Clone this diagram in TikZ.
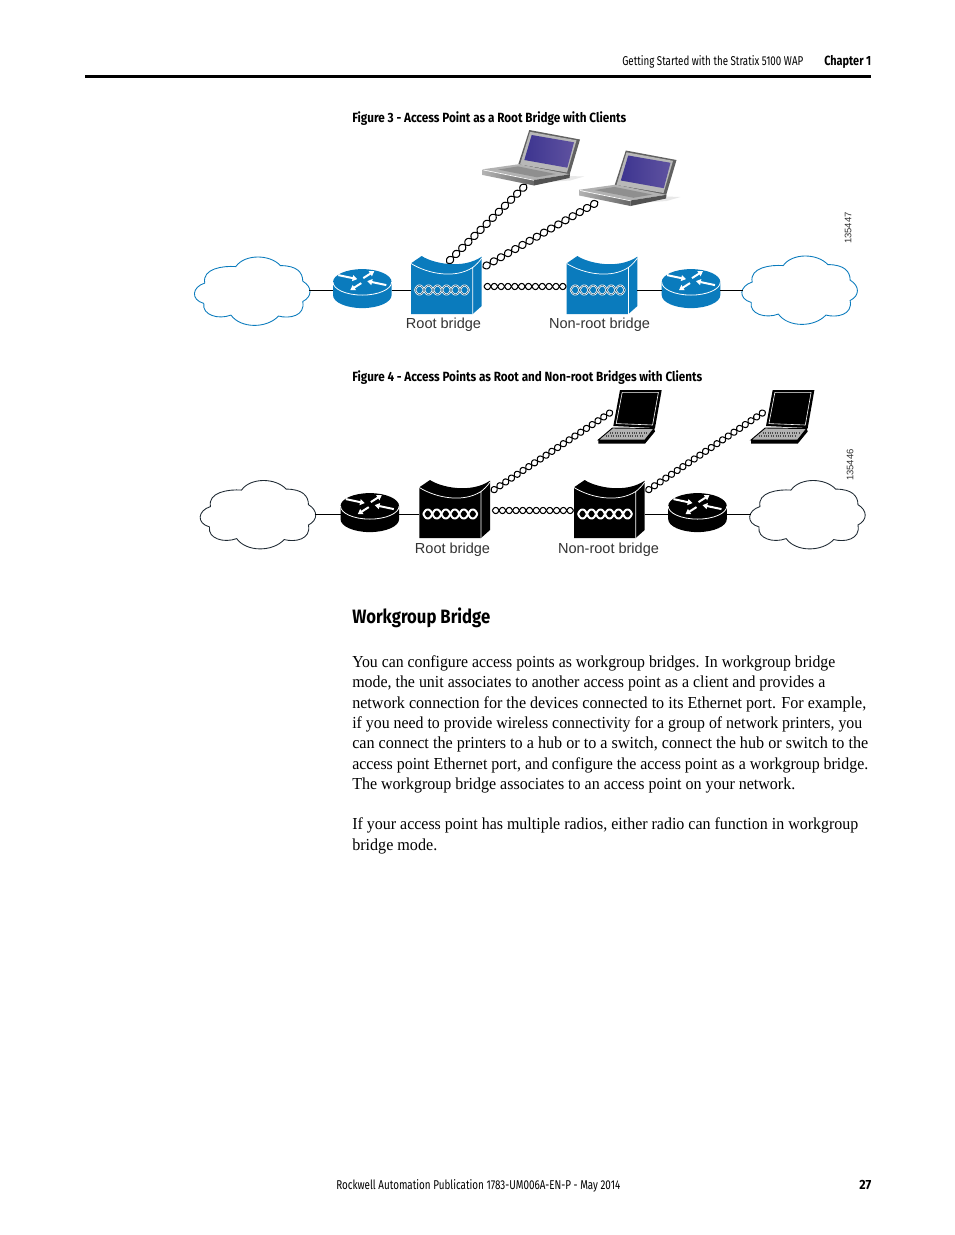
\documentclass[tikz,border=0pt]{standalone}
\usepackage{fontspec}
\usepackage{graphicx}
\setmainfont{Liberation Serif}
\newfontfamily\hdfont{Fira Sans}
\newfontfamily\hvfont{Liberation Sans}
\usetikzlibrary{arrows.meta}
\definecolor{cisco}{HTML}{0A7BBD}
\definecolor{lblgray}{HTML}{333333}
\definecolor{cloudk}{HTML}{1F2A33}
\definecolor{scrL}{HTML}{3D3590}
\definecolor{scrR}{HTML}{5F52A0}
\newcommand{\fitw}[2]{\resizebox{\dimexpr #1pt*3/4\relax}{\height}{#2}}
\tikzset{
 x=0.75pt,y=-0.75pt,
 wire/.style={draw=black,line width=0.75pt},
 hdr/.style={anchor=base west,inner sep=0pt,font=\hdfont\fontsize{9.6}{11}\selectfont},
 hdrb/.style={anchor=base west,inner sep=0pt,font=\hdfont\bfseries\fontsize{10}{11}\selectfont},
 bodyline/.style={anchor=base west,inner sep=0pt,font=\fontsize{12.6}{15}\selectfont},
 lbl/.style={anchor=base,inner sep=0pt,text=lblgray,font=\hvfont\fontsize{10.9}{12}\selectfont},
 idnum/.style={rotate=90,inner sep=0pt,text=lblgray,font=\hvfont\fontsize{7.1}{8}\selectfont},
}
% twisted pair from named point #1 to named point #2: eye length #3 (px), half height #4 (px), colour #5, width #6
\newcommand{\twistlink}[6]{%
 \pgfpointdiff{\pgfpointanchor{#1}{center}}{\pgfpointanchor{#2}{center}}%
 \pgfgetlastxy{\tdx}{\tdy}%
 \pgfmathsetmacro\tang{atan2(\tdy,\tdx)}%
 \pgfmathsetmacro\tlen{veclen(\tdx,\tdy)}%
 \pgfmathsetmacro\tn{max(1,round(\tlen/(#3*0.75)))}%
 \pgfmathsetmacro\tsam{int(\tn*10+1)}%
 \pgfmathsetmacro\tamp{#4*0.75}%
 \begin{scope}[shift={(#1)},x=1pt,y=1pt,rotate=\tang]
 \draw[#5,line width=#6] plot[domain=0:\tn*180,samples=\tsam,smooth,variable=\t]
   ({\t/180*\tlen/\tn},{\tamp*sin(\t)*(1+0.3*cos(\t)*cos(\t))});
 \draw[#5,line width=#6] plot[domain=0:\tn*180,samples=\tsam,smooth,variable=\t]
   ({\t/180*\tlen/\tn},{-\tamp*sin(\t)*(1+0.3*cos(\t)*cos(\t))});
 \end{scope}}
\newcommand{\cloudshape}[5]{% cx cy colour name dy-of-outline
 \begin{scope}[shift={(#1,#2)}]
 \draw[#3,line width=0.65pt,fill=white,shift={(0,#5)},scale=0.97] (-49,-9)
  .. controls (-52,-24) and (-30,-27) .. (-17,-26)
  .. controls (-8,-39) and (18,-39) .. (29,-27)
  .. controls (46,-27) and (52,-20) .. (52,-11)
  .. controls (62,-5) and (62,5) .. (52,10)
  .. controls (55,25) and (38,28) .. (27,25)
  .. controls (15,38) and (-12,38) .. (-22,24)
  .. controls (-35,29) and (-52,24) .. (-50,12)
  .. controls (-64,8) and (-62,-5) .. (-49,-9) -- cycle;
 \coordinate (#4w) at (-56.5,0);
 \coordinate (#4e) at (56.5,0);
 \end{scope}}
\newcommand{\routershape}[4]{% cx cy(top-ellipse centre) colour name
 \begin{scope}[shift={(#1,#2)}]
 \fill[#3] (-29.3,0) -- (-29.3,13) arc[start angle=180,end angle=0,x radius=29.3,y radius=13] -- (29.3,0) -- cycle;
 \fill[#3] (0,0) ellipse[x radius=29.3,y radius=13];
 \draw[white,line width=0.6pt] (-29.3,0) arc[start angle=180,end angle=0,x radius=29.3,y radius=13];
 \begin{scope}[white,line width=1.5pt,-{Triangle[length=3.6pt,width=4.4pt]}]
  \draw (-24,-7) -- (-5,-3);
  \draw (1,-4) -- (12,-11);
  \draw (24,3) -- (5,-1);
  \draw (-1,1) -- (-12,8);
 \end{scope}
 \coordinate (#4w) at (-29.3,8.2);
 \coordinate (#4e) at (29.3,8.2);
 \end{scope}}
\newcommand{\bridgeshape}[5]{% dx dy colour name core-colour; local frame = Fig.3 left bridge
 \begin{scope}[shift={(#1,#2)}]
 \fill[#3] (411,263.3) -- (421.7,256) .. controls (432,263) and (462,270) .. (481.7,256.7)
   -- (481.7,306) -- (472.7,314) -- (411,314) -- cycle;
 \draw[white,line width=0.55pt] (411,263.5) .. controls (428,274) and (455,279) .. (472.7,267.5) -- (472.7,314);
 \draw[white,line width=0.55pt] (472.7,267.5) .. controls (476,265) and (479,262) .. (481.7,258);
 \coordinate (#4wa) at (415,290);
 \coordinate (#4wb) at (469,290);
 \twistlink{#4wa}{#4wb}{9}{4.4}{white}{1.5pt}
 \twistlink{#4wa}{#4wb}{9}{4.4}{#5}{0.3pt}
 \coordinate (#4w) at (411,290.3);
 \coordinate (#4e) at (481.7,290.3);
 \coordinate (#4top) at (447,263);
 \coordinate (#4a) at (483,267.5);
 \coordinate (#4h) at (484,286.5);
 \coordinate (#4hw) at (410.5,286.5);
 \end{scope}}
\newcommand{\colourlaptop}[4]{% dx dy name second-name
 \begin{scope}[shift={(#1,#2)}]
 \fill[black!9] (535,183) -- (569,176) -- (584,176.5) -- (570,180.5) -- cycle;
 \fill[black!62] (518.3,164.3) -- (529.3,130) -- (580,139.5) -- (569.5,175) -- cycle;
 \fill[black!28] (520,164.5) -- (530,131.8) -- (576.5,140.3) -- (567,172.5) -- cycle;
 \shade[left color=scrL,right color=scrR] (531.7,135) -- (574,142.3) -- (567.3,167.7) -- (524.3,160) -- cycle;
 \fill[black!30] (482.7,169.3) -- (518.3,164.3) -- (570,174.3) -- (534,180) -- cycle;
 \fill[black!44] (498,169.6) -- (518,166.4) -- (556,174) -- (537,177.3) -- cycle;
 \shade[left color=black!30,right color=black!60] (482.7,169.3) -- (534,180) -- (534,185.5) -- (482.7,175) -- cycle;
 \fill[black!68] (534,180) -- (570,174.3) -- (569.5,178) -- (534,185.5) -- cycle;
 \draw[white,line width=0.5pt] (483.5,170) -- (534,180.3);
 \coordinate (#3) at (526.5,184.5);
 \coordinate (#4) at (501.5,181.2);
 \end{scope}}
\newcommand{\blacklaptop}[3]{% dx dy name
 \begin{scope}[shift={(#1,#2)}]
 \fill[black] (620,390) -- (661.7,390) -- (655,428) -- (613.3,426) -- cycle;
 \draw[white,line width=0.45pt] (622.2,392.4) -- (658.4,392.4) -- (652.6,425) -- (616.2,423.6) -- cycle;
 \fill[black!30,draw=black,line width=0.7pt] (612.5,428) -- (654,428.5) -- (645,440) -- (598.3,440) -- cycle;
 \draw[black!70,line width=0.8pt,densely dotted] (610,433) -- (647,433) (606,436) -- (644,436);
 \fill[black] (598.3,440) -- (645,440) -- (654,428.5) -- (655,431.5) -- (645,443.7) -- (598.3,443.7) -- cycle;
 \coordinate (#3) at (612.7,411);
 \end{scope}}
\begin{document}
\begin{tikzpicture}[line cap=butt]
\useasboundingbox (0,0) rectangle (954,1235);
\fill[white] (0,0) rectangle (954,1235);

% page header
\node[hdr] (hd1) at (622,65) {\fitw{181}{Getting Started with the Stratix 5100 WAP}};
\node[hdrb] (hd2) at (824,65) {\fitw{47}{Chapter 1}};
\fill[black] (85,74.6) rectangle (871,77.6);

% captions
\node[hdrb] (cap3) at (352,122) {\fitw{274}{Figure 3 - Access Point as a Root Bridge with Clients}};
\node[hdrb] (cap4) at (352,381) {\fitw{350}{Figure 4 - Access Points as Root and Non-root Bridges with Clients}};

%%% Figure 3
\cloudshape{252.3}{290.3}{cisco}{ca}{1.5}
\routershape{362.3}{282.1}{cisco}{ra}
\bridgeshape{0}{0}{cisco}{ba}{cisco!50!black}
\bridgeshape{155.7}{0}{cisco}{bb}{cisco!50!black}
\routershape{691}{282.1}{cisco}{rb}
\cloudshape{799.7}{290.3}{cisco}{cb}{0.5}
\colourlaptop{0}{0}{la}{lax}
\colourlaptop{96.5}{20.5}{lbx}{lb}
\draw[wire] (cae) -- (raw);
\draw[wire] (rae) -- (baw);
\draw[wire] (bbe) -- (rbw);
\draw[wire] (rbe) -- (cbw);
\twistlink{batop}{la}{8.6}{3.4}{black}{0.8pt}
\twistlink{baa}{lb}{8.3}{3.4}{black}{0.8pt}
\twistlink{bah}{bbhw}{6.9}{3}{black}{0.8pt}
\node[lbl] (t1) at (443.5,328) {Root bridge};
\node[lbl] (t2) at (599.5,328) {Non-root bridge};
\node[idnum] (id1) at (848,228) {135447};

%%% Figure 4
\cloudshape{258}{514.3}{cloudk}{cc}{1}
\routershape{369.8}{506.1}{black}{rc}
\bridgeshape{8.3}{224}{black}{bc}{white}
\bridgeshape{163}{224}{black}{bd}{white}
\routershape{697.5}{506.1}{black}{rd}
\cloudshape{807.5}{514.3}{cloudk}{cd}{1}
\blacklaptop{0}{0}{lc}
\blacklaptop{152.7}{0}{ld}
\draw[wire] (cce) -- (rcw);
\draw[wire] (rce) -- (bcw);
\draw[wire] (bde) -- (rdw);
\draw[wire] (rde) -- (cdw);
\twistlink{bca}{lc}{7}{3}{black}{0.8pt}
\twistlink{bda}{ld}{7}{3}{black}{0.8pt}
\twistlink{bch}{bdhw}{6.9}{3}{black}{0.8pt}
\node[lbl] (t3) at (452.5,553) {Root bridge};
\node[lbl] (t4) at (608.5,553) {Non-root bridge};
\node[idnum] (id2) at (850,465) {135446};

% section heading
\node[anchor=base west,inner sep=0pt,font=\hdfont\bfseries\fontsize{14.5}{17}\selectfont] (sec) at (352,623.5) {\fitw{138}{Workgroup Bridge}};

% body text
\node[bodyline] (p1) at (352,667) {\fitw{483}{You can configure access points as workgroup bridges. In workgroup bridge}};
\node[bodyline] (p2) at (352,687.5) {\fitw{473}{mode, the unit associates to another access point as a client and provides a}};
\node[bodyline] (p3) at (352,708) {\fitw{514}{network connection for the devices connected to its Ethernet port. For example,}};
\node[bodyline] (p4) at (352,728) {\fitw{510}{if you need to provide wireless connectivity for a group of network printers, you}};
\node[bodyline] (p5) at (352,748.5) {\fitw{516}{can connect the printers to a hub or to a switch, connect the hub or switch to the}};
\node[bodyline] (p6) at (352,769) {\fitw{516}{access point Ethernet port, and configure the access point as a workgroup bridge.}};
\node[bodyline] (p7) at (352,789) {\fitw{443}{The workgroup bridge associates to an access point on your network.}};
\node[bodyline] (p8) at (352,829) {\fitw{506}{If your access point has multiple radios, either radio can function in workgroup}};
\node[bodyline] (p9) at (352,850) {\fitw{85}{bridge mode.}};

% footer
\node[hdr] (ft1) at (336,1189) {\fitw{284}{Rockwell Automation Publication 1783-UM006A-EN-P - May 2014}};
\node[hdrb] (ft2) at (859,1189) {\fitw{12}{27}};
\end{tikzpicture}
\end{document}
